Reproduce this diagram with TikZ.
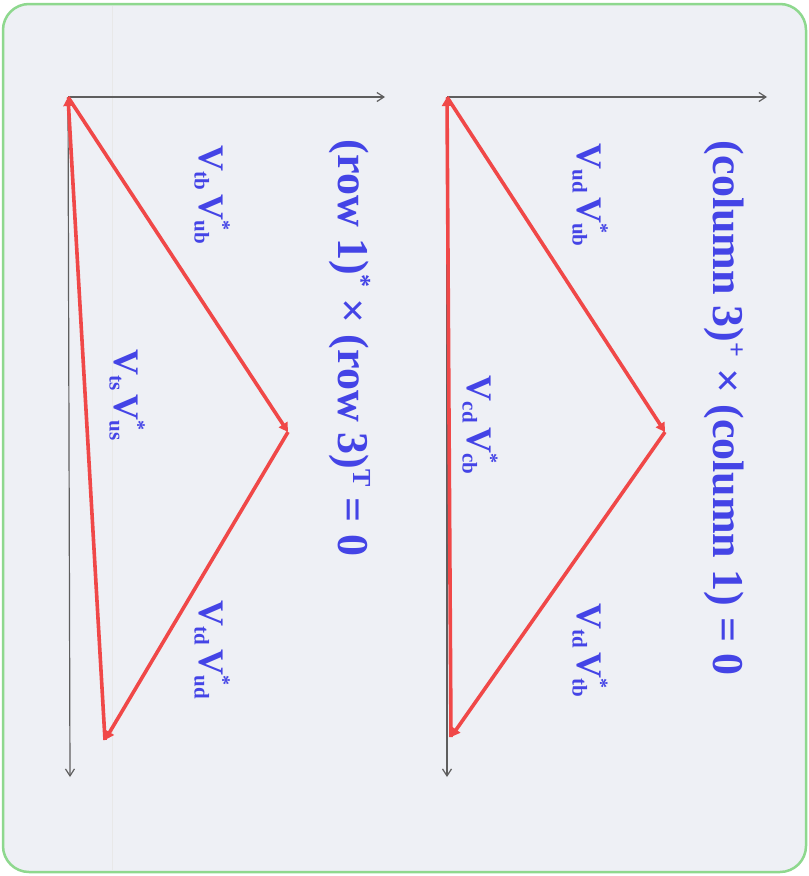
\documentclass[tikz,border=0pt]{standalone}
\usepackage{fontspec}
\setmainfont{Liberation Serif}
\usetikzlibrary{arrows.meta}
\definecolor{bgc}{HTML}{EEF0F5}
\definecolor{frm}{HTML}{8ED88E}
\definecolor{redv}{HTML}{F04848}
\definecolor{bluet}{HTML}{4444E6}
\definecolor{axc}{HTML}{5E5E5E}
\newcommand\smallsub[1]{\raisebox{-0.28ex}{\fontsize{21}{21}\selectfont #1}}
\newcommand\vlab[2]{V\smallsub{#1}\hspace{0.12em}V\makebox[0pt][l]{\raisebox{1.05ex}{\fontsize{20}{20}\selectfont *}}\smallsub{#2}}
\newcommand\tsup[1]{\raisebox{0.75ex}{\fontsize{26}{26}\selectfont #1}}
\begin{document}
\begin{tikzpicture}[x=1pt,y=-1pt,
  axis/.style={draw=axc,line width=1.2pt,-{Straight Barb[length=7pt,width=9pt,line width=1.2pt]}},
  side/.style={draw=redv,line width=3.6pt,-{Triangle[length=9pt,width=10pt]}},
  ttl/.style={rotate=-90,text=bluet,font=\bfseries\fontsize{44}{52}\selectfont,inner sep=0pt},
  lab/.style={rotate=-90,text=bluet,font=\bfseries\fontsize{36}{42}\selectfont,inner sep=0pt}]
\useasboundingbox (0,0) rectangle (809,876);
\fill[white] (0,0) rectangle (809,876);
\draw[frm,line width=2.5pt,fill=bgc,rounded corners=26pt] (3,4) rectangle (806,872);
\draw[gray!18,line width=1pt] (112,6) -- (112,870);
% top diagram
\coordinate (O1) at (447,97);
\coordinate (X1) at (767,97);
\coordinate (Y1) at (447,777);
\coordinate (B1) at (665,432);
\coordinate (C1) at (451,737);
\draw[axis] (O1) -- (X1);
\draw[axis] (O1) -- (Y1);
\draw[side] (O1) -- (B1);
\draw[side] (B1) -- (C1);
\draw[side] (C1) -- (O1);
\node[ttl] (t1) at (724,408) {(column 3)\tsup{+} × (column 1) = 0};
\node[lab] (l1) at (590,195) {\vlab{ud}{ub}};
\node[lab] (l2) at (480,425) {\vlab{cd}{cb}};
\node[lab] (l3) at (590,650) {\vlab{td}{tb}};
% bottom diagram
\coordinate (O2) at (68,97);
\coordinate (X2) at (385,97);
\coordinate (Y2) at (70,777);
\coordinate (B2) at (288,432);
\coordinate (C2) at (105,740);
\draw[axis] (O2) -- (X2);
\draw[axis] (O2) -- (Y2);
\draw[side] (O2) -- (B2);
\draw[side] (B2) -- (C2);
\draw[side] (C2) -- (O2);
\node[ttl] (t2) at (350,348) {(row 1)\tsup{*} × (row 3)\tsup{T} = 0};
\node[lab] (m1) at (212,195) {\vlab{tb}{ub}};
\node[lab] (m2) at (127,395) {\vlab{ts}{us}};
\node[lab] (m3) at (212,650) {\vlab{td}{ud}};
\end{tikzpicture}
\end{document}
